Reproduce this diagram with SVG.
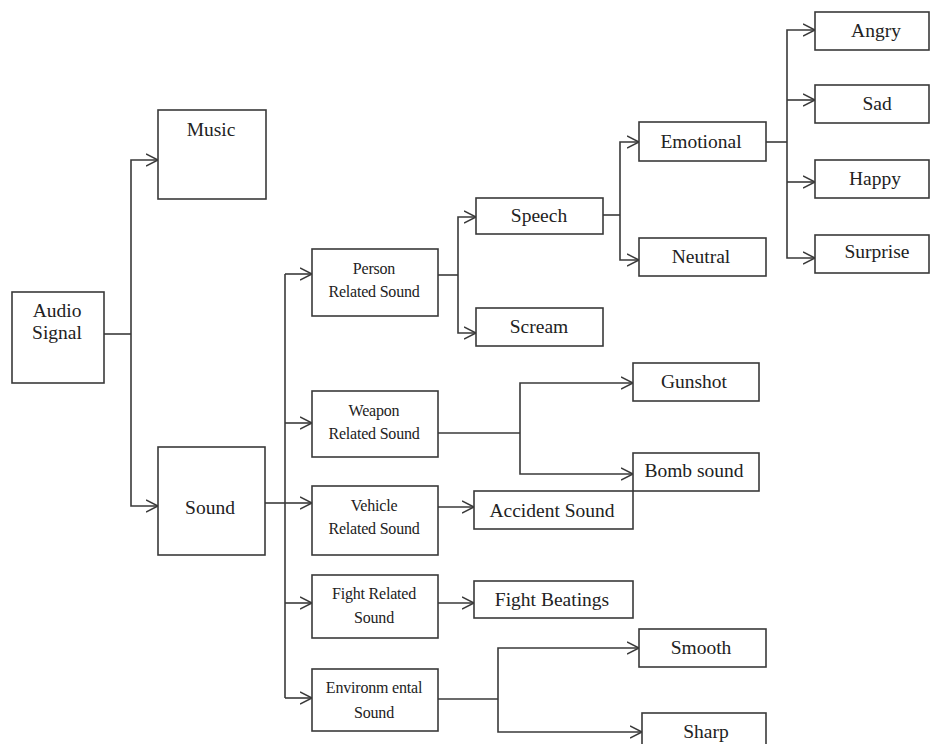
<svg xmlns="http://www.w3.org/2000/svg" width="931" height="744" viewBox="0 0 931 744">
<style>
.box{fill:#fff;stroke:#3a3a3a;stroke-width:1.6}
text{font-family:'Liberation Serif','Times New Roman','DejaVu Serif',serif;fill:#222;text-anchor:middle}
.l{font-size:19.5px}
.s{font-size:16px;letter-spacing:-0.2px}
.c{fill:none;stroke:#3a3a3a;stroke-width:1.6}
</style>
<defs>
<marker id="a" markerUnits="userSpaceOnUse" markerWidth="14" markerHeight="14" refX="12" refY="6" orient="auto" viewBox="0 0 14 12">
<path d="M0,0 L12,6 L0,12" fill="none" stroke="#3a3a3a" stroke-width="1.5"/>
</marker>
</defs>
<rect width="931" height="744" fill="#fff"/>
<g id="connectors">
<path class="c" d="M104,334 H131"/>
<path class="c" d="M131,334 V160 H158" marker-end="url(#a)"/>
<path class="c" d="M131,334 V506 H158" marker-end="url(#a)"/>
<path class="c" d="M265,503 H285"/>
<path class="c" d="M285,274 V698"/>
<path class="c" d="M285,274 H312" marker-end="url(#a)"/>
<path class="c" d="M285,423 H312" marker-end="url(#a)"/>
<path class="c" d="M285,503 H312" marker-end="url(#a)"/>
<path class="c" d="M285,603 H312" marker-end="url(#a)"/>
<path class="c" d="M285,698 H312" marker-end="url(#a)"/>
<path class="c" d="M438,275 H458"/>
<path class="c" d="M458,275 V217 H476" marker-end="url(#a)"/>
<path class="c" d="M458,275 V333 H476" marker-end="url(#a)"/>
<path class="c" d="M603,215 H620"/>
<path class="c" d="M620,215 V142 H639" marker-end="url(#a)"/>
<path class="c" d="M620,215 V260 H639" marker-end="url(#a)"/>
<path class="c" d="M766,142 H787"/>
<path class="c" d="M787,142 V30 H815" marker-end="url(#a)"/>
<path class="c" d="M787,100 H815" marker-end="url(#a)"/>
<path class="c" d="M787,142 V258 H815" marker-end="url(#a)"/>
<path class="c" d="M787,182 H815" marker-end="url(#a)"/>
<path class="c" d="M438,433 H520"/>
<path class="c" d="M520,433 V383 H633" marker-end="url(#a)"/>
<path class="c" d="M520,433 V474 H633" marker-end="url(#a)"/>
<path class="c" d="M438,507 H474" marker-end="url(#a)"/>
<path class="c" d="M438,603 H474" marker-end="url(#a)"/>
<path class="c" d="M438,699 H498"/>
<path class="c" d="M498,699 V648 H639" marker-end="url(#a)"/>
<path class="c" d="M498,699 V732 H642" marker-end="url(#a)"/>
</g>
<g id="audio-signal"><rect class="box" x="12" y="292" width="92" height="91"/><text class="l" x="57" y="317">Audio</text><text class="l" x="57" y="339">Signal</text></g>
<g id="music"><rect class="box" x="158" y="110" width="108" height="89"/><text class="l" x="211" y="136">Music</text></g>
<g id="sound"><rect class="box" x="158" y="447" width="107" height="108"/><text class="l" x="210" y="514">Sound</text></g>
<g id="person"><rect class="box" x="312" y="249" width="126" height="67"/><text class="s" x="374" y="274">Person</text><text class="s" x="374" y="297">Related Sound</text></g>
<g id="speech"><rect class="box" x="476" y="198" width="127" height="36"/><text class="l" x="539" y="222">Speech</text></g>
<g id="scream"><rect class="box" x="476" y="308" width="127" height="38"/><text class="l" x="539" y="333">Scream</text></g>
<g id="emotional"><rect class="box" x="639" y="122" width="127" height="39"/><text class="l" x="701" y="148">Emotional</text></g>
<g id="neutral"><rect class="box" x="639" y="238" width="127" height="38"/><text class="l" x="701" y="263">Neutral</text></g>
<g id="angry"><rect class="box" x="815" y="12" width="114" height="38"/><text class="l" x="876" y="37">Angry</text></g>
<g id="sad"><rect class="box" x="815" y="85" width="114" height="38"/><text class="l" x="877" y="110">Sad</text></g>
<g id="happy"><rect class="box" x="815" y="160" width="114" height="38"/><text class="l" x="875" y="185">Happy</text></g>
<g id="surprise"><rect class="box" x="815" y="235" width="114" height="38"/><text class="l" x="877" y="258">Surprise</text></g>
<g id="weapon"><rect class="box" x="312" y="391" width="126" height="66"/><text class="s" x="374" y="416">Weapon</text><text class="s" x="374" y="439">Related Sound</text></g>
<g id="gunshot"><rect class="box" x="633" y="363" width="126" height="38"/><text class="l" x="694" y="388">Gunshot</text></g>
<g id="bomb"><rect class="box" x="633" y="453" width="126" height="38"/><text class="l" x="694" y="477">Bomb sound</text></g>
<g id="vehicle"><rect class="box" x="312" y="486" width="126" height="69"/><text class="s" x="374" y="511">Vehicle</text><text class="s" x="374" y="534">Related Sound</text></g>
<g id="accident"><rect class="box" x="474" y="491" width="159" height="38"/><text class="l" x="552" y="517">Accident Sound</text></g>
<g id="fight"><rect class="box" x="312" y="575" width="126" height="63"/><text class="s" x="374" y="599">Fight Related</text><text class="s" x="374" y="623">Sound</text></g>
<g id="fight-beatings"><rect class="box" x="474" y="581" width="159" height="37"/><text class="l" x="552" y="606">Fight Beatings</text></g>
<g id="environmental"><rect class="box" x="312" y="669" width="126" height="62"/><text class="s" x="374" y="693">Environm ental</text><text class="s" x="374" y="718">Sound</text></g>
<g id="smooth"><rect class="box" x="639" y="629" width="127" height="38"/><text class="l" x="701" y="654">Smooth</text></g>
<g id="sharp"><rect class="box" x="642" y="713" width="124" height="40"/><text class="l" x="706" y="738">Sharp</text></g>
</svg>
